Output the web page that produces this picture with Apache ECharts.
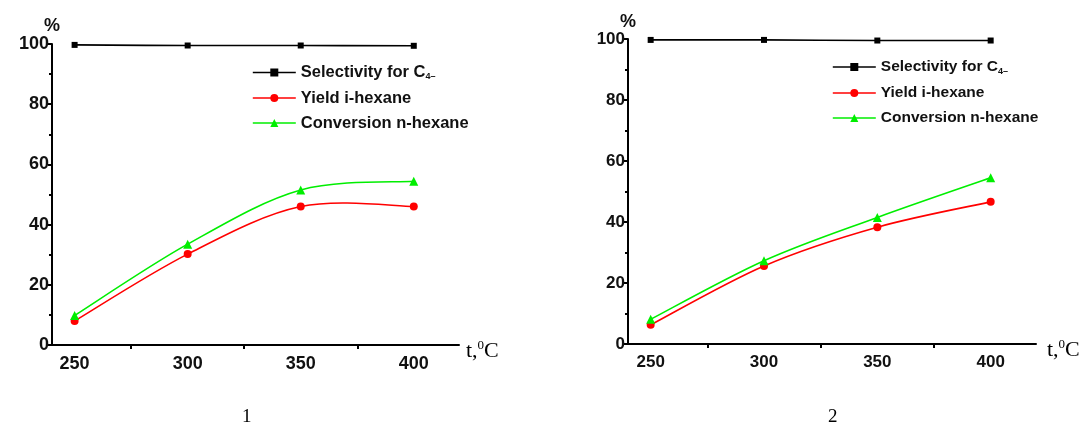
<!DOCTYPE html>
<html>
<head>
<meta charset="utf-8">
<script src="https://cdn.jsdelivr.net/npm/echarts@6/dist/echarts.min.js"></script>
<style>
  html, body { margin: 0; padding: 0; background: #fff; }
  #chart { width: 1088px; height: 434px; }
</style>
</head>
<body>
<div id="chart"></div>
<script>
// temperatures, deg C
const temps = [250, 300, 350, 400];
const xLabelValues = [250, 300, 350, 400];
const xMinorTicks = [275, 325, 375];

// panel 1
const selectivity1 = [99.7, 99.5, 99.5, 99.4];
const yield1 = [8, 30.2, 46, 46];
const conversion1 = [9.8, 33.5, 51.5, 54.4];

// panel 2
const selectivity2 = [99.7, 99.7, 99.5, 99.5];
const yield2 = [6.3, 25.6, 38.3, 46.6];
const conversion2 = [8.1, 27.3, 41.5, 54.5];

const seriesNames = ['Selectivity for C4-', 'Yield i-hexane', 'Conversion n-hexane'];
const colors = ['#000000', '#ff0000', '#00ee00'];
const panelLabels = ['1', '2'];

const chart = echarts.init(document.getElementById('chart'));

function pairs(ys) {
  return temps.map((t, i) => [t, ys[i]]);
}

// spline through the points (like the origin plot), drawn in pixel space via api.coord
function curveSeries(idx, ys, color) {
  const data = pairs(ys);
  return {
    type: 'custom', xAxisIndex: idx, yAxisIndex: idx, z: 1, silent: true,
    data: data, encode: { x: 0, y: 1 },
    renderItem: function (params, api) {
      if (params.dataIndex !== 0) return null;
      const p = data.map(d => api.coord(d));
      let d = 'M' + p[0][0] + ' ' + p[0][1];
      for (let i = 0; i < p.length - 1; i++) {
        const p0 = p[Math.max(i - 1, 0)], p1 = p[i], p2 = p[i + 1], p3 = p[Math.min(i + 2, p.length - 1)];
        const c1x = p1[0] + (p2[0] - p0[0]) / 6, c1y = p1[1] + (p2[1] - p0[1]) / 6;
        const c2x = p2[0] - (p3[0] - p1[0]) / 6, c2y = p2[1] - (p3[1] - p1[1]) / 6;
        d += ' C' + c1x + ' ' + c1y + ' ' + c2x + ' ' + c2y + ' ' + p2[0] + ' ' + p2[1];
      }
      return { type: 'path', shape: { pathData: d }, style: { stroke: color, lineWidth: 1.6, fill: 'none' } };
    }
  };
}

function xAxisFor(idx, fontSize, gap) {
  return {
    type: 'value', gridIndex: idx, min: 240, max: 420,
    axisLine: { show: true, lineStyle: { color: '#000', width: 2 } },
    axisTick: { show: true, customValues: xMinorTicks, length: 4, lineStyle: { color: '#000', width: 2 } },
    axisLabel: { customValues: xLabelValues, color: '#111', fontSize: fontSize, fontWeight: 'bold', fontFamily: 'Liberation Sans', margin: 10 },
    splitLine: { show: false },
    name: '{t|t,}{s|0}{t|C}', nameLocation: 'end', nameGap: gap,
    nameTextStyle: {
      padding: [12, 0, 0, 0],
      rich: {
        t: { fontFamily: 'Liberation Serif', fontSize: 22, color: '#000', lineHeight: 24 },
        s: { fontFamily: 'Liberation Serif', fontSize: 13, color: '#000', verticalAlign: 'top', lineHeight: 14 }
      }
    }
  };
}

function yAxisFor(idx, fontSize) {
  return {
    type: 'value', gridIndex: idx, min: 0, max: 100, interval: 20,
    axisLine: { show: true, lineStyle: { color: '#000', width: 2 } },
    axisTick: { show: true, length: 4, lineStyle: { color: '#000', width: 2 } },
    minorTick: { show: true, splitNumber: 2, length: 3, lineStyle: { color: '#000', width: 2 } },
    axisLabel: { color: '#111', fontSize: fontSize, fontWeight: 'bold', fontFamily: 'Liberation Sans', margin: 3 },
    splitLine: { show: false },
    name: '%', nameLocation: 'end', nameGap: 6,
    nameTextStyle: { color: '#111', fontSize: 18, fontWeight: 'bold', fontFamily: 'Liberation Sans' }
  };
}

function seriesFor(idx, sel, yld, conv) {
  const marks = [
    { name: seriesNames[0], data: sel, symbol: 'rect', symbolSize: 6 },
    { name: seriesNames[1], data: yld, symbol: 'circle', symbolSize: 8 },
    { name: seriesNames[2], data: conv, symbol: 'triangle', symbolSize: 9 }
  ];
  const out = [];
  marks.forEach((m, k) => {
    out.push(curveSeries(idx, m.data, colors[k]));
    out.push({
      name: m.name, type: 'line', xAxisIndex: idx, yAxisIndex: idx, z: 2,
      data: pairs(m.data), symbol: m.symbol, symbolSize: m.symbolSize,
      itemStyle: { color: colors[k] }, lineStyle: { color: colors[k], width: 0 }
    });
  });
  return out;
}

function legendFor(left, top, fontSize, gap) {
  return {
    orient: 'vertical', left: left, top: top, itemWidth: 43, itemHeight: 10, itemGap: gap,
    selectedMode: false,
    data: seriesNames.map((n, k) => ({ name: n, lineStyle: { color: colors[k], width: 1.6 } })),
    lineStyle: { width: 1.6 },
    formatter: function (name) {
      if (name === seriesNames[0]) return '{a|Selectivity for C}{s|4–}';
      return '{a|' + name + '}';
    },
    textStyle: {
      rich: {
        a: { fontSize: fontSize, fontWeight: 'bold', fontFamily: 'Liberation Sans', color: '#111', lineHeight: 18 },
        s: { fontSize: 9, fontWeight: 'bold', fontFamily: 'Liberation Sans', color: '#111', verticalAlign: 'bottom', lineHeight: 10 }
      }
    }
  };
}

const option = {
  animation: false,
  grid: [
    { left: 52, top: 44, width: 407, height: 301 },
    { left: 628, top: 39, width: 408, height: 305 }
  ],
  xAxis: [xAxisFor(0, 18, 7), xAxisFor(1, 17, 11)],
  yAxis: [yAxisFor(0, 18), yAxisFor(1, 17)],
  legend: [legendFor(247, 59, 16.5, 8), legendFor(827, 54, 15.5, 9)],
  series: seriesFor(0, selectivity1, yield1, conversion1)
    .concat(seriesFor(1, selectivity2, yield2, conversion2)),
  graphic: [
    { type: 'text', left: 242, top: 408, style: { text: panelLabels[0], fontFamily: 'Liberation Serif', fontSize: 19, fill: '#000' } },
    { type: 'text', left: 828, top: 408, style: { text: panelLabels[1], fontFamily: 'Liberation Serif', fontSize: 19, fill: '#000' } }
  ]
};

chart.setOption(option);
</script>
</body>
</html>
